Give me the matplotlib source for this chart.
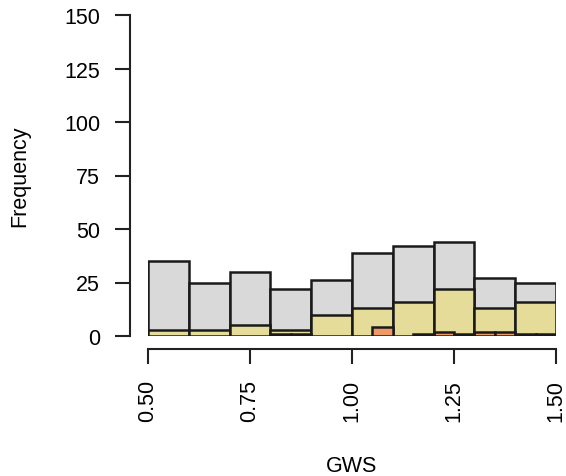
"""Overlaid GWS histograms, R base-graphics look."""
import numpy as np
import matplotlib
matplotlib.use('Agg')
import matplotlib.pyplot as plt

plt.rcParams['font.family'] = ['Liberation Sans', 'DejaVu Sans']

# coarse bins (width 0.1)
bin_left = [0.5, 0.6, 0.7, 0.8, 0.9, 1.0, 1.1, 1.2, 1.3, 1.4]
all_counts = [35, 25, 30, 22, 26, 39, 42, 44, 27, 25]
sub_counts = [3, 3, 5, 3, 10, 13, 16, 22, 13, 16]

# fine bins (width 0.05)
orange_left = [1.05, 1.20, 1.30, 1.35]
orange_counts = [4, 2, 2, 2]
dark_left = [0.80, 0.85, 1.15, 1.25, 1.40, 1.45]
dark_counts = [1, 1, 1, 1, 1, 1]

x_ticks = [0.50, 0.75, 1.00, 1.25, 1.50]
x_labels = ['0.50', '0.75', '1.00', '1.25', '1.50']
y_ticks = [0, 25, 50, 75, 100, 125, 150]

DPI = 100
W, H = 566, 477
fig = plt.figure(figsize=(W / DPI, H / DPI), dpi=DPI)
ax = fig.add_axes([148 / W, (H - 337) / H, (556 - 148) / W, (337 - 16) / H])

edge = '#1a1a1a'
lw = 1.8
ax.bar(bin_left, all_counts, width=0.1, align='edge', color='#d9d9d9', edgecolor=edge, linewidth=lw)
ax.bar(bin_left, sub_counts, width=0.1, align='edge', color='#e6dc9a', edgecolor=edge, linewidth=lw)
ax.bar(orange_left, orange_counts, width=0.05, align='edge', color='#ee9a66', edgecolor=edge, linewidth=lw)
ax.bar(dark_left, dark_counts, width=0.05, align='edge', color='#5a3020', edgecolor=edge, linewidth=lw)

ax.set_xlim(0.5, 1.5)
ax.set_ylim(0, 150)

px = 72 / DPI
for s in ('top', 'right'):
    ax.spines[s].set_visible(False)
ax.spines['left'].set_position(('outward', 18 * px))
ax.spines['bottom'].set_position(('outward', 13 * px))
ax.spines['left'].set_bounds(0, 150)
ax.spines['bottom'].set_bounds(0.5, 1.5)
for s in ('left', 'bottom'):
    ax.spines[s].set_linewidth(1.5)
    ax.spines[s].set_color('#222222')

ax.set_xticks(x_ticks)
ax.set_xticklabels(x_labels, rotation=90)
ax.set_yticks(y_ticks)
ax.tick_params(axis='both', length=15 * px, width=1.5, color='#222222', labelsize=15.5, pad=15 * px)

ax.set_xlabel('GWS', fontsize=15.5, labelpad=34 * px)
ax.set_ylabel('Frequency', fontsize=15.5, labelpad=34 * px)

fig.savefig('out.png', dpi=DPI)
